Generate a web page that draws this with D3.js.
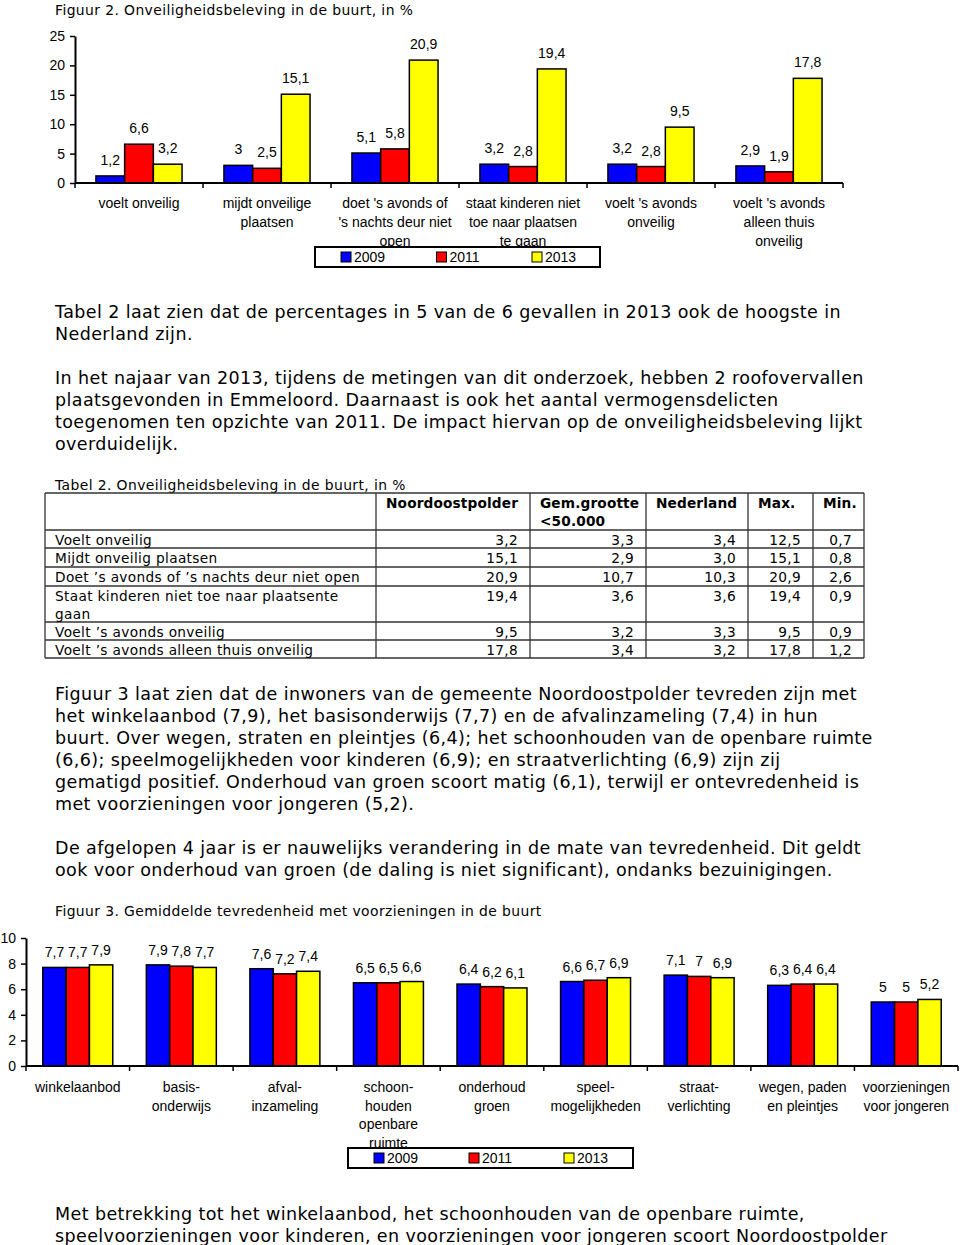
<!DOCTYPE html>
<html><head><meta charset="utf-8">
<script src="https://cdn.jsdelivr.net/npm/d3@7"></script>
<style>
html,body{margin:0;padding:0;background:#fff;}
svg text{fill:#000;}
.chart text{font-family:"Liberation Sans",Arial,sans-serif;font-size:14px;}
.doc{font-family:"DejaVu Sans",Verdana,sans-serif;letter-spacing:0.025em;}
</style></head>
<body>
<script>
// ---------- data ----------
const years = ["2009", "2011", "2013"];
const colors = ["#0000ff", "#ff0000", "#ffff00"];

const fig2Title = "Figuur 2. Onveiligheidsbeleving in de buurt, in %";
const fig2Categories = ["voelt onveilig", "mijdt onveilige\nplaatsen", "doet 's avonds of\n's nachts deur niet\nopen", "staat kinderen niet\ntoe naar plaatsen\nte gaan", "voelt 's avonds\nonveilig", "voelt 's avonds\nalleen thuis\nonveilig"];
const fig2_2009 = [1.2, 3, 5.1, 3.2, 3.2, 2.9];
const fig2_2011 = [6.6, 2.5, 5.8, 2.8, 2.8, 1.9];
const fig2_2013 = [3.2, 15.1, 20.9, 19.4, 9.5, 17.8];
const fig2Ticks = [0, 5, 10, 15, 20, 25];

const fig3Title = "Figuur 3. Gemiddelde tevredenheid met voorzieningen in de buurt";
const fig3Categories = ["winkelaanbod", "basis-\nonderwijs", "afval-\ninzameling", "schoon-\nhouden\nopenbare\nruimte", "onderhoud\ngroen", "speel-\nmogelijkheden", "straat-\nverlichting", "wegen, paden\nen pleintjes", "voorzieningen\nvoor jongeren"];
const fig3_2009 = [7.7, 7.9, 7.6, 6.5, 6.4, 6.6, 7.1, 6.3, 5];
const fig3_2011 = [7.7, 7.8, 7.2, 6.5, 6.2, 6.7, 7, 6.4, 5];
const fig3_2013 = [7.9, 7.7, 7.4, 6.6, 6.1, 6.9, 6.9, 6.4, 5.2];
const fig3Ticks = [0, 2, 4, 6, 8, 10];

const tableCaption = "Tabel 2. Onveiligheidsbeleving in de buurt, in %";
const tableHeaders = ["", "Noordoostpolder", "Gem.grootte\n<50.000", "Nederland", "Max.", "Min."];
const tableRowLabels = ["Voelt onveilig", "Mijdt onveilig plaatsen", "Doet ’s avonds of ’s nachts deur niet open", "Staat kinderen niet toe naar plaatsente\ngaan", "Voelt ’s avonds onveilig", "Voelt ’s avonds alleen thuis onveilig"];
const tableNoordoostpolder = ["3,2", "15,1", "20,9", "19,4", "9,5", "17,8"];
const tableGemGrootte = ["3,3", "2,9", "10,7", "3,6", "3,2", "3,4"];
const tableNederland = ["3,4", "3,0", "10,3", "3,6", "3,3", "3,2"];
const tableMax = ["12,5", "15,1", "20,9", "19,4", "9,5", "17,8"];
const tableMin = ["0,7", "0,8", "2,6", "0,9", "0,9", "1,2"];

const para1 = ["Tabel 2 laat zien dat de percentages in 5 van de 6 gevallen in 2013 ook de hoogste in", "Nederland zijn."];
const para2 = ["In het najaar van 2013, tijdens de metingen van dit onderzoek, hebben 2 roofovervallen", "plaatsgevonden in Emmeloord. Daarnaast is ook het aantal vermogensdelicten", "toegenomen ten opzichte van 2011. De impact hiervan op de onveiligheidsbeleving lijkt", "overduidelijk."];
const para3 = ["Figuur 3 laat zien dat de inwoners van de gemeente Noordoostpolder tevreden zijn met", "het winkelaanbod (7,9), het basisonderwijs (7,7) en de afvalinzameling (7,4) in hun", "buurt. Over wegen, straten en pleintjes (6,4); het schoonhouden van de openbare ruimte", "(6,6); speelmogelijkheden voor kinderen (6,9); en straatverlichting (6,9) zijn zij", "gematigd positief. Onderhoud van groen scoort matig (6,1), terwijl er ontevredenheid is", "met voorzieningen voor jongeren (5,2)."];
const para4 = ["De afgelopen 4 jaar is er nauwelijks verandering in de mate van tevredenheid. Dit geldt", "ook voor onderhoud van groen (de daling is niet significant), ondanks bezuinigingen."];
const para5 = ["Met betrekking tot het winkelaanbod, het schoonhouden van de openbare ruimte,", "speelvoorzieningen voor kinderen, en voorzieningen voor jongeren scoort Noordoostpolder"];

// ---------- drawing ----------
const svg = d3.select("body").append("svg").attr("width", 960).attr("height", 1245);
const fmt = v => String(v).replace(".", ",");
const BODY = 17.5, SMALL = 13.9, TABLE = 13.7;

function paragraph(lines, x, y0, lh, size) {
  const g = svg.append("g").attr("class", "doc");
  g.selectAll("text").data(lines).join("text")
    .attr("x", x).attr("y", (d, i) => y0 + i * lh)
    .attr("font-size", size).text(d => d);
}

function barChart(opt) {
  const g = svg.append("g").attr("class", "chart");
  const data = opt.categories.map((c, i) => ({cat: c, vals: opt.series.map(s => s[i])}));
  const x = d3.scaleBand().domain(opt.categories).range([opt.x0, opt.x1]).paddingInner(0).paddingOuter(0);
  const xs = d3.scaleBand().domain(years).range([0, x.bandwidth()]).paddingInner(0).paddingOuter(opt.groupPad);
  const y = d3.scaleLinear().domain([0, opt.max]).range([opt.y0, opt.yTop]);

  // y axis
  const ya = g.append("g").attr("transform", `translate(${opt.x0},0)`)
    .call(d3.axisLeft(y).tickValues(opt.ticks).tickSize(5).tickSizeOuter(0).tickPadding(5).tickFormat(fmt));
  ya.selectAll("text").attr("font-size", 14).attr("font-family", '"Liberation Sans",Arial,sans-serif').attr("fill", "#000");
  ya.selectAll("line").attr("stroke", "#000").attr("stroke-width", 1.5);
  ya.select(".domain").attr("stroke", "#000").attr("stroke-width", 2);

  // bars
  const grp = g.selectAll("g.grp").data(data).join("g").attr("class", "grp")
    .attr("transform", d => `translate(${x(d.cat)},0)`);
  grp.selectAll("rect").data(d => d.vals.map((v, k) => ({v, k}))).join("rect")
    .attr("x", d => xs(years[d.k])).attr("width", xs.bandwidth())
    .attr("y", d => y(d.v)).attr("height", d => opt.y0 - y(d.v))
    .attr("fill", d => colors[d.k]).attr("stroke", "#000").attr("stroke-width", 1.5);
  grp.selectAll("text.val").data(d => d.vals.map((v, k) => ({v, k}))).join("text").attr("class", "val")
    .attr("x", d => xs(years[d.k]) + xs.bandwidth() / 2).attr("y", d => y(d.v) - opt.labelGap)
    .attr("text-anchor", "middle").text(d => fmt(d.v));

  // x axis
  g.append("line").attr("x1", opt.x0).attr("x2", opt.x1).attr("y1", opt.y0).attr("y2", opt.y0)
    .attr("stroke", "#000").attr("stroke-width", 2);
  const bounds = opt.categories.map(c => x(c)).concat([opt.x1]);
  g.selectAll("line.xt").data(bounds).join("line").attr("class", "xt")
    .attr("x1", d => d).attr("x2", d => d).attr("y1", opt.y0).attr("y2", opt.y0 + 5)
    .attr("stroke", "#000").attr("stroke-width", 1.5);
  // category labels
  const cl = g.selectAll("text.cat").data(opt.categories).join("text").attr("class", "cat")
    .attr("text-anchor", "middle").attr("transform", d => `translate(${x(d) + x.bandwidth() / 2},${opt.catY})`);
  cl.selectAll("tspan").data(d => d.split("\n")).join("tspan")
    .attr("x", 0).attr("y", (d, i) => i * opt.catLH).text(d => d);

  // legend
  const L = opt.legend;
  g.append("rect").attr("x", L.x).attr("y", L.y).attr("width", L.w).attr("height", L.h)
    .attr("fill", "#fff").attr("stroke", "#000").attr("stroke-width", 2);
  const li = g.selectAll("g.leg").data(years).join("g").attr("class", "leg")
    .attr("transform", (d, i) => `translate(${L.x + L.first + i * L.step},${L.y + L.h / 2})`);
  li.append("rect").attr("x", 0).attr("y", -5).attr("width", 10).attr("height", 10)
    .attr("fill", (d, i) => colors[i]).attr("stroke", "#000").attr("stroke-width", 1);
  li.append("text").attr("x", 13).attr("y", 5).text(d => d);
}

// Figure 2
paragraph([fig2Title], 55, 14.5, 0, SMALL);
barChart({
  categories: fig2Categories, series: [fig2_2009, fig2_2011, fig2_2013],
  x0: 75, x1: 843, y0: 183, yTop: 36, max: 25, ticks: fig2Ticks, groupPad: 0.73,
  labelGap: 11, catY: 208, catLH: 19,
  legend: {x: 315, y: 247, w: 285, h: 20, first: 26, step: 95.5}
});

paragraph(para1, 55, 318, 22, BODY);
paragraph(para2, 55, 384, 22, BODY);

// Table
paragraph([tableCaption], 55, 490, 0, SMALL);
(function table() {
  const g = svg.append("g").attr("class", "doc").attr("font-size", TABLE);
  const colX = [45, 376, 530, 646, 748, 813, 864];
  const rowY = [493, 530, 548, 567, 586, 622, 640, 658];
  const cols = [tableNoordoostpolder, tableGemGrootte, tableNederland, tableMax, tableMin];
  // grid
  g.selectAll("line.h").data(rowY).join("line").attr("class", "h")
    .attr("x1", colX[0]).attr("x2", colX[colX.length - 1]).attr("y1", d => d).attr("y2", d => d)
    .attr("stroke", "#333").attr("stroke-width", 1.3);
  g.selectAll("line.v").data(colX).join("line").attr("class", "v")
    .attr("x1", d => d).attr("x2", d => d).attr("y1", rowY[0]).attr("y2", rowY[rowY.length - 1])
    .attr("stroke", "#333").attr("stroke-width", 1.3);
  // header
  const hd = g.selectAll("text.hd").data(tableHeaders).join("text").attr("class", "hd")
    .attr("font-weight", "bold").attr("letter-spacing", "0.01em")
    .attr("transform", (d, i) => `translate(${colX[i] + 10},${rowY[0] + 15})`);
  hd.selectAll("tspan").data(d => d.split("\n")).join("tspan").attr("x", 0).attr("y", (d, i) => i * 18).text(d => d);
  // row labels
  const rl = g.selectAll("text.rl").data(tableRowLabels).join("text").attr("class", "rl")
    .attr("transform", (d, i) => `translate(${colX[0] + 10},${rowY[i + 1] + 14.5})`);
  rl.selectAll("tspan").data(d => d.split("\n")).join("tspan").attr("x", 0).attr("y", (d, i) => i * 18).text(d => d);
  // values
  cols.forEach((col, c) => {
    g.selectAll(null).data(col).join("text")
      .attr("x", colX[c + 2] - 12).attr("y", (d, i) => rowY[i + 1] + 14.5)
      .attr("text-anchor", "end").text(d => d);
  });
})();

paragraph(para3, 55, 700, 22, BODY);
paragraph(para4, 55, 854, 22, BODY);

// Figure 3
paragraph([fig3Title], 55, 916, 0, SMALL);
barChart({
  categories: fig3Categories, series: [fig3_2009, fig3_2011, fig3_2013],
  x0: 26, x1: 958, y0: 1066, yTop: 938, max: 10, ticks: fig3Ticks, groupPad: 0.72,
  labelGap: 10, catY: 1092, catLH: 18.7,
  legend: {x: 348, y: 1148, w: 285, h: 20, first: 26, step: 95}
});

paragraph(para5, 55, 1220, 22, BODY);
</script>
</body></html>
